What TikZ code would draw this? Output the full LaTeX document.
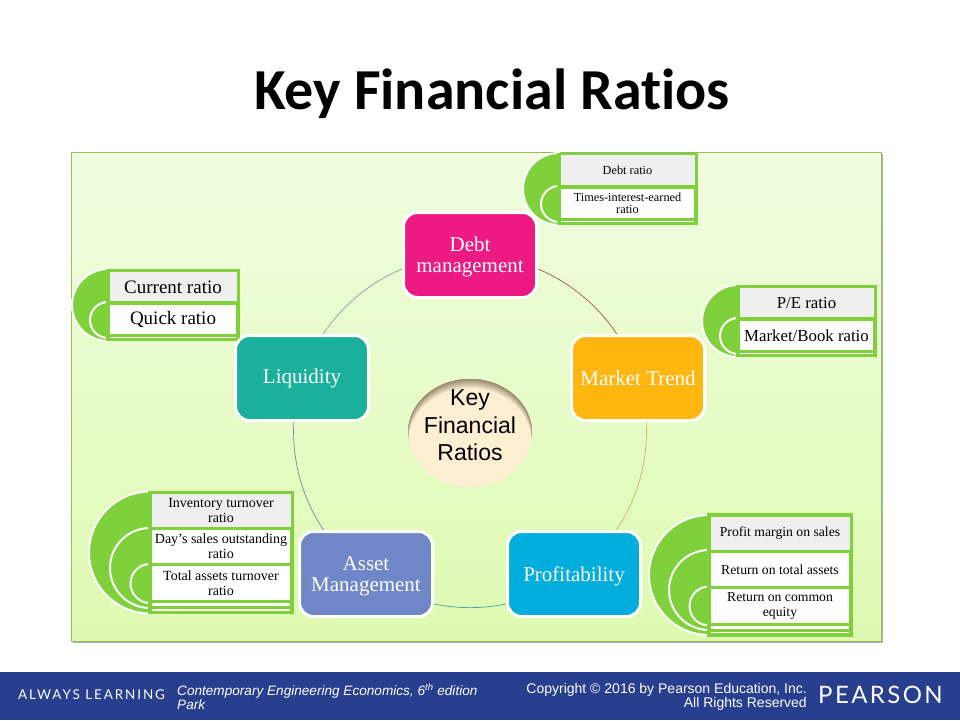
\documentclass[tikz,border=0pt]{standalone}
\usepackage{fontspec}
\usetikzlibrary{backgrounds}
\setmainfont{Liberation Serif}
\newfontfamily\titlefont[RawFeature=-liga]{Carlito}
\newfontfamily\hubfont{Liberation Sans}
\newfontfamily\brandfont[LetterSpace=14]{Lato}
\newfontfamily\logofont[LetterSpace=10]{Lato}
\definecolor{listgreen}{HTML}{7FD13B}
\definecolor{rowgrey}{HTML}{EFEFEF}
\definecolor{barblue}{HTML}{283F8F}
\definecolor{cdebt}{HTML}{EC1A82}
\definecolor{cmarket}{HTML}{FFB60F}
\definecolor{cprofit}{HTML}{00ADDC}
\definecolor{casset}{HTML}{6F87C8}
\definecolor{cliq}{HTML}{1AB09C}
\definecolor{hubcream}{HTML}{FDEFD2}
\definecolor{hubdark}{HTML}{7A6C50}
\definecolor{paneltop}{HTML}{F0FDE0}
\definecolor{panelbot}{HTML}{DEFAB0}
\definecolor{panelline}{HTML}{9BBB59}
\newcommand{\lowerline}{\rule{0pt}{19pt}}
\tikzset{
  x=1pt,y=-1pt,
  mainbox/.style={draw=white,line width=3pt,rounded corners=14pt,minimum width=133pt,minimum height=85pt,
    text=white,align=center,inner sep=0pt,font=\fontsize{21}{21}\selectfont},
  ringarc/.style={line width=0.7pt,bend left=36,looseness=0.94},
  disc/.style={fill=listgreen,draw=white,line width=2pt},
  listframe/.style={draw=listgreen,fill=white,line width=3.5pt},
  rowsep/.style={draw=listgreen,line width=3.5pt},
  rowfirst/.style={fill=rowgrey},
  rowsmall/.style={font=\fontsize{12.3}{12.5}\selectfont},
  rowmid/.style={font=\fontsize{14}{15}\selectfont},
  rowprof/.style={font=\fontsize{13.7}{15}\selectfont},
  rowbig/.style={font=\fontsize{16.8}{18}\selectfont},
  rowhuge/.style={font=\fontsize{19}{20}\selectfont},
  footer/.style={text=white,font=\hubfont\fontsize{14}{14}\selectfont,inner sep=0pt},
}
% half disc: x of straight edge, centre y, radius
\newcommand{\hdisc}[3]{\draw[disc] (#1,{#2-#3}) arc[start angle=90,end angle=270,radius=#3pt] -- cycle;}
% row node: name, x1, y1, x2, y2, style, text
\newcommand{\rownode}[7]{%
  \pgfmathsetlengthmacro{\rw}{(#4-#2)*1pt}%
  \pgfmathsetlengthmacro{\rh}{(#5-#3)*1pt}%
  \node[#6,minimum width=\rw,minimum height=\rh,inner sep=0pt,align=center,text=black]
  (#1) at ({(#2+#4)/2},{(#3+#5)/2}) {#7};}
\begin{document}
\begin{tikzpicture}
\useasboundingbox (0,0) rectangle (960,720);
\begin{pgfonlayer}{background}
\fill[white] (0,0) rectangle (960,720);
\fill[black!30] (72.5,154) rectangle (882.5,643);
\shade[top color=paneltop,bottom color=panelbot,draw=panelline,line width=0.8pt] (71,152) rectangle (881,641);
\end{pgfonlayer}
% title
\node[font=\titlefont\bfseries\fontsize{58}{66}\selectfont,inner sep=0pt] (title) at (492,93.5) {Key Financial Ratios};
% liquidity list (lies under its main box)
\hdisc{108}{305}{36}
\hdisc{108}{320}{18}
\draw[listframe] (108,270.5) rectangle (238,339.5);
\rownode{liqa}{109.5}{272}{236.5}{302}{rowfirst,rowhuge}{Current ratio}
\rownode{liqb}{109.5}{304.5}{236.5}{334}{rowhuge}{Quick ratio}
\draw[rowsep] (108,303) -- (238,303);
\draw[rowsep] (108,335.5) -- (238,335.5);
% main boxes
\node[mainbox,fill=cdebt] (debt) at (470,255) {\lowerline Debt\\management};
\node[mainbox,fill=cmarket] (market) at (638,378) {Market Trend};
\node[mainbox,fill=cprofit] (profit) at (574,574) {\lowerline Profitability};
\node[mainbox,fill=casset] (asset) at (366,574) {\lowerline Asset\\Management};
\node[mainbox,fill=cliq] (liq) at (302,378) {Liquidity};
% hub
\fill[hubcream] (470,433) ellipse [x radius=62pt,y radius=54pt];
\begin{scope}
  \clip (470,433) ellipse [x radius=62pt,y radius=54pt];
  \foreach \i/\m in {9/10,8/18,7/26,6/34,5/42,4/50,3/58,2/66,1/75}{
    \fill[hubdark!\m!hubcream,even odd rule] (400,370) rectangle (540,500)
      (470,{433+\i}) ellipse [x radius=62pt,y radius=54pt];
  }
\end{scope}
\node[minimum width=124pt,minimum height=108pt,inner sep=0pt,align=center,
  font=\hubfont\fontsize{23}{27.5}\selectfont] (hub) at (470,425.5) {Key\\Financial\hspace{5pt}\\Ratios};
% debt list
\hdisc{559}{189}{36}
\hdisc{559}{204}{18}
\draw[listframe] (559,154.5) rectangle (696,223.5);
\rownode{debta}{560.5}{155}{694.5}{185}{rowfirst,rowsmall}{Debt ratio}
\rownode{debtb}{560.5}{188.5}{694.5}{218}{rowsmall}{Times-interest-earned\\ratio}
\draw[rowsep] (559,187) -- (696,187);
\draw[rowsep] (559,219.5) -- (696,219.5);
% market list
\hdisc{738}{321}{36}
\hdisc{738}{336}{18}
\draw[listframe] (738,286.5) rectangle (875,355.5);
\rownode{marka}{739.5}{288}{873.5}{318}{rowfirst,rowbig}{P/E ratio}
\rownode{markb}{739.5}{320.5}{873.5}{350}{rowbig}{Market/Book ratio}
\draw[rowsep] (738,319) -- (875,319);
\draw[rowsep] (738,351.5) -- (875,351.5);
% asset list
\hdisc{150}{552.5}{61}
\hdisc{150}{568}{40}
\hdisc{150}{583.5}{19.5}
\draw[listframe] (150,492.5) rectangle (292,612.5);
\rownode{asseta}{151.5}{494}{290.5}{527}{rowfirst,rowmid}{Inventory turnover\\ratio}
\rownode{assetb}{151.5}{530}{290.5}{563}{rowmid}{Day's sales outstanding\\ratio}
\rownode{assetc}{151.5}{566}{290.5}{600}{rowmid}{Total assets turnover\\ratio}
\draw[rowsep] (150,528.5) -- (292,528.5);
\draw[rowsep] (150,564.5) -- (292,564.5);
\draw[rowsep] (150,601.5) -- (292,601.5);
\draw[rowsep] (150,607.5) -- (292,607.5);
% profit list
\hdisc{709}{575}{60}
\hdisc{709}{590}{40}
\hdisc{709}{606}{19.5}
\draw[listframe] (709,515) rectangle (851,635);
\rownode{profa}{710.5}{516.5}{849.5}{550}{rowfirst,rowprof}{Profit margin on sales}
\rownode{profb}{710.5}{553}{849.5}{586}{rowprof}{Return on total assets}
\rownode{profc}{710.5}{589}{849.5}{623}{rowprof}{Return on common\\equity}
\draw[rowsep] (709,551.5) -- (851,551.5);
\draw[rowsep] (709,587.5) -- (851,587.5);
\draw[rowsep] (709,624.5) -- (851,624.5);
\draw[rowsep] (709,630.5) -- (851,630.5);
% footer
\fill[barblue] (0,672) rectangle (960,720);
\node[text=white,anchor=west,inner sep=0pt,font=\brandfont\fontsize{13.5}{14}\selectfont] (always) at (18,695) {ALWAYS LEARNING};
\node[footer,anchor=north west,align=left,font=\hubfont\itshape\fontsize{13.6}{14}\selectfont] (book) at (177,683) {Contemporary Engineering Economics, 6\textsuperscript{th} edition\\Park};
\node[footer,anchor=north east,align=right] (copy) at (807,683) {Copyright © 2016 by Pearson Education, Inc.\\All Rights Reserved};
\node[text=white,anchor=west,inner sep=0pt,font=\logofont\fontsize{24}{28}\selectfont] (logo) at (818,695) {PEARSON};
% ring connectors, behind the boxes
\begin{pgfonlayer}{background}
\draw[ringarc,color={rgb,255:red,160;green,82;blue,79}] (debt.center) to (market.center);
\draw[ringarc,color={rgb,255:red,207;green,178;blue,106}] (market.center) to (profit.center);
\draw[ringarc,color={rgb,255:red,63;green,160;blue,176}] (profit.center) to (asset.center);
\draw[ringarc,color={rgb,255:red,111;green,135;blue,168}] (asset.center) to (liq.center);
\draw[ringarc,color={rgb,255:red,124;green,168;blue,160}] (liq.center) to (debt.center);
\end{pgfonlayer}
\end{tikzpicture}
\end{document}
